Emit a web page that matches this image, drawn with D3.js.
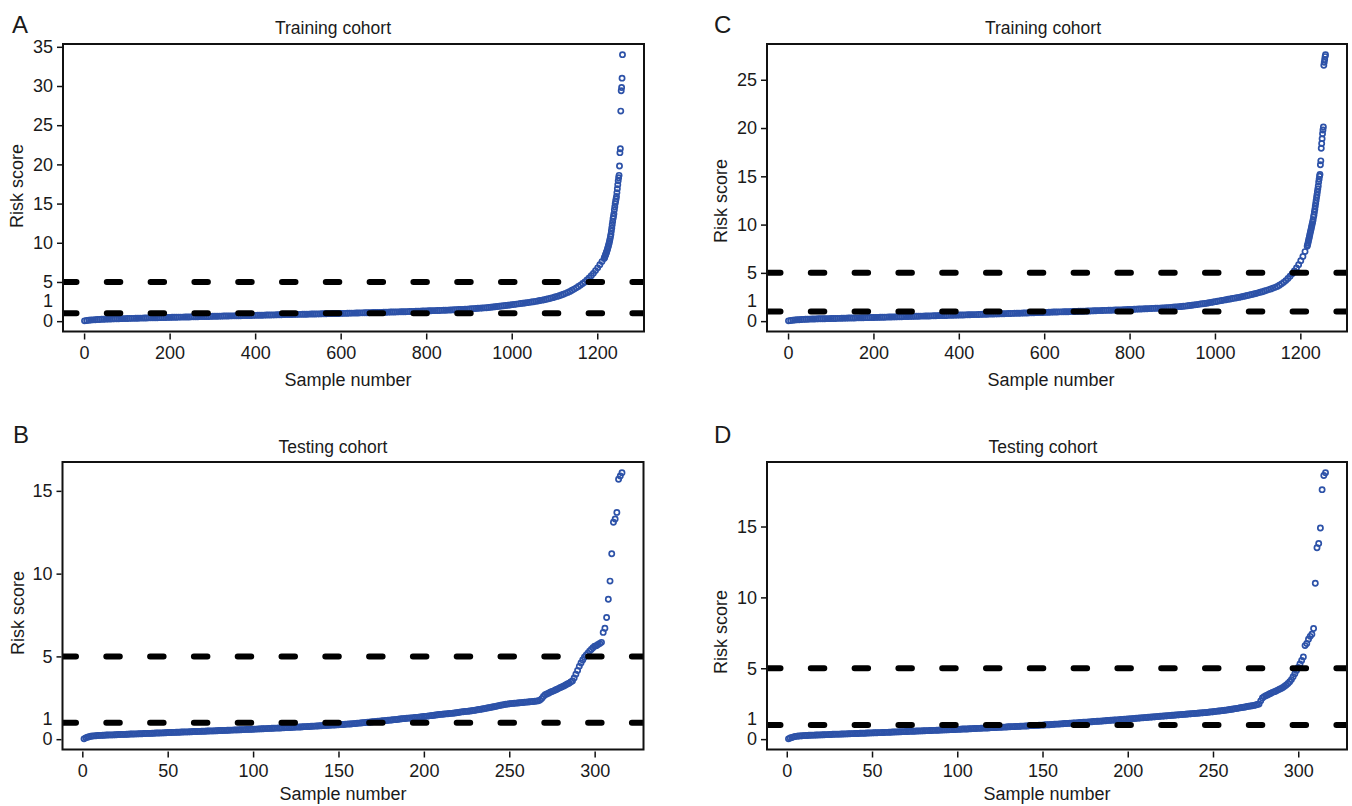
<!DOCTYPE html>
<html><head><meta charset="utf-8">
<script src="https://cdn.jsdelivr.net/npm/d3@7"></script>
<style>
html,body{margin:0;padding:0;background:#fff;}
svg{display:block;}
text{font-family:"Liberation Sans",Arial,Helvetica,sans-serif;fill:#1a1a1a;}
</style></head><body>
<svg id="chart" width="1352" height="806"></svg>
<script>
// ---------------- DATA ----------------
// Training cohort: scores read every 5th sample (1, 6, 11, ... 1216) in the dense part,
// then every sample in the steep tail (1217 ... 1259).
const scoreA_dense = [
0.04,0.09,0.12,0.15,0.17,0.19,0.21,0.22,0.24,0.25,0.26,0.27,0.28,0.29,0.30,0.31,0.31,0.32,0.33,0.33,
0.34,0.35,0.36,0.36,0.37,0.38,0.39,0.39,0.40,0.41,0.42,0.42,0.43,0.44,0.44,0.45,0.46,0.46,0.47,0.48,
0.48,0.49,0.50,0.50,0.51,0.52,0.52,0.53,0.54,0.54,0.55,0.56,0.56,0.57,0.58,0.58,0.59,0.60,0.60,0.61,
0.62,0.62,0.63,0.64,0.64,0.65,0.66,0.66,0.67,0.68,0.68,0.69,0.70,0.70,0.71,0.72,0.72,0.73,0.73,0.74,
0.74,0.75,0.76,0.76,0.77,0.78,0.78,0.79,0.80,0.80,0.81,0.82,0.82,0.83,0.84,0.84,0.85,0.85,0.86,0.86,
0.87,0.87,0.88,0.89,0.89,0.90,0.91,0.91,0.92,0.93,0.93,0.94,0.95,0.95,0.96,0.96,0.97,0.97,0.98,0.98,
0.99,1.00,1.00,1.01,1.02,1.03,1.03,1.04,1.05,1.06,1.06,1.07,1.08,1.08,1.09,1.10,1.10,1.11,1.12,1.12,
1.13,1.14,1.15,1.16,1.16,1.17,1.18,1.19,1.20,1.20,1.21,1.22,1.23,1.24,1.25,1.26,1.27,1.28,1.29,1.30,
1.31,1.32,1.33,1.34,1.35,1.36,1.37,1.38,1.39,1.40,1.41,1.42,1.44,1.45,1.46,1.48,1.49,1.51,1.52,1.54,
1.56,1.58,1.60,1.62,1.64,1.66,1.68,1.70,1.72,1.75,1.78,1.81,1.84,1.87,1.90,1.93,1.96,1.99,2.03,2.07,
2.11,2.14,2.18,2.21,2.25,2.28,2.32,2.36,2.40,2.44,2.48,2.53,2.58,2.63,2.68,2.74,2.80,2.86,2.93,3.00,
3.08,3.16,3.25,3.34,3.44,3.55,3.67,3.80,3.94,4.09,4.25,4.42,4.60,4.80,5.00,5.25,5.50,5.80,6.10,6.45,
6.80,7.20,7.60,8.00];
const scoreA_tail = [8.1,8.25,8.4,8.55,8.7,8.85,9.0,9.2,9.4,9.6,9.8,10.0,10.25,10.5,10.8,11.1,11.5,11.9,12.3,12.7,
13.1,13.4,13.7,14.2,14.6,15.0,15.3,15.6,15.9,16.4,16.9,17.4,17.9,18.3,18.6,19.8,21.5,22.0,26.8,29.4,29.8,31.0,34.0];

const scoreC_dense = [
0.03,0.07,0.10,0.12,0.14,0.15,0.17,0.18,0.19,0.20,0.21,0.22,0.22,0.23,0.24,0.24,0.25,0.25,0.26,0.26,
0.27,0.28,0.28,0.29,0.29,0.30,0.31,0.31,0.32,0.32,0.33,0.33,0.34,0.34,0.35,0.35,0.36,0.36,0.37,0.37,
0.38,0.39,0.39,0.40,0.41,0.41,0.42,0.43,0.43,0.44,0.44,0.45,0.46,0.46,0.47,0.47,0.48,0.49,0.49,0.50,
0.50,0.51,0.52,0.52,0.53,0.54,0.54,0.55,0.56,0.56,0.57,0.58,0.58,0.59,0.59,0.60,0.61,0.61,0.62,0.62,
0.63,0.64,0.64,0.65,0.66,0.66,0.67,0.68,0.68,0.69,0.70,0.71,0.71,0.72,0.73,0.73,0.74,0.75,0.75,0.76,
0.77,0.77,0.78,0.79,0.79,0.80,0.81,0.82,0.82,0.83,0.84,0.84,0.85,0.86,0.86,0.87,0.88,0.89,0.89,0.90,
0.91,0.91,0.92,0.93,0.94,0.94,0.95,0.96,0.96,0.97,0.98,0.98,0.99,1.00,1.00,1.01,1.02,1.02,1.03,1.04,
1.05,1.05,1.06,1.07,1.08,1.09,1.09,1.10,1.11,1.12,1.13,1.13,1.14,1.15,1.16,1.17,1.17,1.18,1.19,1.20,
1.21,1.22,1.23,1.24,1.25,1.26,1.27,1.28,1.29,1.30,1.31,1.32,1.33,1.34,1.35,1.36,1.37,1.39,1.40,1.42,
1.44,1.46,1.48,1.50,1.52,1.54,1.56,1.59,1.62,1.65,1.68,1.71,1.74,1.77,1.80,1.83,1.86,1.90,1.94,1.98,
2.02,2.06,2.10,2.14,2.18,2.22,2.26,2.30,2.34,2.38,2.42,2.46,2.51,2.56,2.61,2.66,2.71,2.76,2.81,2.87,
2.93,2.99,3.05,3.12,3.19,3.26,3.34,3.42,3.50,3.60,3.72,3.86,4.02,4.20,4.42,4.66,4.92,5.20,5.50,5.85,
6.25,6.70,7.20,7.75];
const scoreC_tail = [7.9,8.1,8.3,8.5,8.7,8.9,9.1,9.3,9.5,9.7,9.9,10.1,10.3,10.5,10.8,11.0,11.3,11.6,11.9,12.2,
12.5,12.8,13.1,13.4,13.7,14.0,14.4,14.7,15.0,15.2,16.2,16.6,17.9,18.4,18.9,19.4,19.8,20.1,26.5,26.8,27.1,27.4,27.6];

// Testing cohort: one score per sample (1 ... 316)
const scoreB = [
0.02,0.08,0.12,0.15,0.18,0.19,0.20,0.21,0.22,0.23,
0.23,0.24,0.24,0.25,0.25,0.26,0.26,0.26,0.27,0.27,
0.28,0.28,0.29,0.29,0.29,0.30,0.30,0.31,0.31,0.31,
0.32,0.32,0.33,0.33,0.33,0.34,0.34,0.35,0.35,0.35,
0.36,0.36,0.37,0.37,0.37,0.38,0.38,0.39,0.39,0.40,
0.40,0.40,0.41,0.41,0.42,0.42,0.42,0.43,0.43,0.44,
0.44,0.44,0.45,0.45,0.46,0.46,0.46,0.47,0.47,0.48,
0.48,0.48,0.49,0.49,0.50,0.50,0.50,0.51,0.51,0.52,
0.52,0.52,0.53,0.53,0.54,0.54,0.55,0.55,0.56,0.56,
0.56,0.57,0.57,0.58,0.58,0.59,0.59,0.59,0.60,0.60,
0.61,0.61,0.62,0.62,0.63,0.63,0.64,0.64,0.65,0.65,
0.66,0.66,0.67,0.67,0.68,0.68,0.69,0.69,0.70,0.70,
0.71,0.71,0.72,0.72,0.73,0.73,0.74,0.74,0.75,0.76,
0.76,0.77,0.77,0.78,0.78,0.79,0.80,0.80,0.81,0.81,
0.82,0.82,0.83,0.84,0.84,0.85,0.85,0.86,0.87,0.87,
0.88,0.89,0.89,0.90,0.91,0.92,0.92,0.93,0.94,0.95,
0.96,0.97,0.98,0.99,1.00,1.01,1.02,1.03,1.04,1.05,
1.06,1.07,1.08,1.09,1.10,1.11,1.12,1.13,1.14,1.15,
1.16,1.17,1.18,1.19,1.20,1.22,1.23,1.24,1.25,1.26,
1.27,1.28,1.29,1.30,1.31,1.32,1.33,1.34,1.36,1.37,
1.38,1.39,1.41,1.42,1.43,1.45,1.46,1.48,1.49,1.50,
1.51,1.52,1.53,1.54,1.55,1.56,1.57,1.58,1.60,1.61,
1.63,1.65,1.66,1.67,1.68,1.69,1.70,1.72,1.74,1.75,
1.77,1.79,1.80,1.82,1.84,1.86,1.88,1.90,1.92,1.94,
1.96,1.98,2.01,2.03,2.05,2.07,2.09,2.11,2.12,2.14,
2.15,2.16,2.17,2.18,2.19,2.20,2.21,2.22,2.23,2.24,
2.25,2.26,2.27,2.28,2.29,2.30,2.32,2.36,2.45,2.58,
2.68,2.73,2.78,2.84,2.88,2.92,2.97,3.02,3.07,3.12,
3.17,3.22,3.27,3.33,3.38,3.45,3.52,3.70,3.92,4.15,
4.40,4.60,4.78,4.95,5.08,5.20,5.32,5.42,5.52,5.62,
5.65,5.72,5.78,5.85,6.45,6.70,7.35,8.45,9.55,11.2,
13.1,13.3,13.7,15.7,15.9,16.1];

const scoreD = [
0.02,0.08,0.12,0.16,0.19,0.21,0.22,0.23,0.24,0.25,
0.26,0.26,0.27,0.27,0.28,0.28,0.29,0.29,0.30,0.30,
0.31,0.31,0.32,0.32,0.33,0.33,0.34,0.34,0.35,0.35,
0.35,0.36,0.36,0.37,0.37,0.38,0.38,0.39,0.39,0.40,
0.40,0.40,0.41,0.41,0.42,0.42,0.43,0.43,0.44,0.44,
0.45,0.45,0.45,0.46,0.46,0.47,0.47,0.48,0.48,0.49,
0.49,0.50,0.50,0.51,0.51,0.52,0.52,0.53,0.53,0.54,
0.54,0.55,0.55,0.56,0.56,0.57,0.57,0.58,0.58,0.59,
0.59,0.60,0.60,0.61,0.61,0.62,0.62,0.63,0.63,0.64,
0.64,0.65,0.65,0.66,0.66,0.67,0.67,0.68,0.68,0.69,
0.69,0.70,0.71,0.71,0.72,0.72,0.73,0.73,0.74,0.75,
0.75,0.76,0.76,0.77,0.78,0.78,0.79,0.79,0.80,0.81,
0.81,0.82,0.82,0.83,0.84,0.84,0.85,0.85,0.86,0.87,
0.87,0.88,0.88,0.89,0.90,0.90,0.91,0.92,0.92,0.93,
0.93,0.94,0.95,0.95,0.96,0.97,0.97,0.98,0.99,0.99,
1.00,1.01,1.02,1.02,1.03,1.04,1.05,1.06,1.06,1.07,
1.08,1.09,1.10,1.10,1.11,1.12,1.13,1.14,1.14,1.15,
1.16,1.17,1.18,1.19,1.19,1.20,1.21,1.22,1.23,1.24,
1.25,1.26,1.26,1.27,1.28,1.29,1.30,1.31,1.32,1.33,
1.34,1.35,1.35,1.36,1.37,1.38,1.39,1.40,1.41,1.42,
1.43,1.44,1.45,1.46,1.47,1.48,1.49,1.50,1.51,1.52,
1.53,1.54,1.55,1.56,1.57,1.58,1.59,1.60,1.61,1.62,
1.63,1.64,1.65,1.66,1.67,1.68,1.69,1.70,1.71,1.72,
1.73,1.74,1.75,1.76,1.77,1.78,1.79,1.80,1.81,1.82,
1.83,1.84,1.85,1.86,1.87,1.88,1.89,1.91,1.92,1.93,
1.95,1.96,1.98,1.99,2.01,2.02,2.04,2.05,2.07,2.09,
2.11,2.13,2.15,2.17,2.19,2.21,2.23,2.25,2.27,2.30,
2.32,2.34,2.36,2.38,2.41,2.44,2.48,2.70,2.90,3.00,
3.06,3.12,3.18,3.24,3.30,3.35,3.40,3.46,3.52,3.58,
3.65,3.73,3.82,3.92,4.05,4.20,4.40,4.62,4.85,5.05,
5.30,5.55,5.80,6.60,6.75,7.05,7.25,7.40,7.80,11.0,
13.5,13.8,14.9,17.6,18.6,18.8];

const cutoffs = [1, 5];
const yTicksA = [0, 1, 5, 10, 15, 20, 25, 30, 35];
const yTicksC = [0, 1, 5, 10, 15, 20, 25];
const yTicksB = [0, 1, 5, 10, 15];
const yTicksD = [0, 1, 5, 10, 15];
const xTicksTraining = [0, 200, 400, 600, 800, 1000, 1200];
const xTicksTesting = [0, 50, 100, 150, 200, 250, 300];

const titleTraining = "Training cohort";
const titleTesting = "Testing cohort";
const xLabel = "Sample number";
const yLabel = "Risk score";

// ---------------- BUILD POINTS ----------------
const denseStep = 5;
function trainingPoints(dense, tail) {
  const pts = dense.map((v, i) => ({ s: 1 + denseStep * i, v }));
  const start = 1 + denseStep * (dense.length - 1) + 1;
  tail.forEach((v, i) => pts.push({ s: start + i, v }));
  return pts;
}
function testingPoints(scores) {
  return scores.map((v, i) => ({ s: i + 1, v }));
}

const panels = [
  { letter: "A", pts: trainingPoints(scoreA_dense, scoreA_tail), yTicks: yTicksA, xTicks: xTicksTraining, title: titleTraining,
    left: 63, right: 644, top: 44, bottom: 331.5, letterX: 12, letterY: 33, titleX: 333, titleY: 34,
    xLabX: 348, xLabY: 386, yLabX: 23, yLabY: 186 },
  { letter: "C", pts: trainingPoints(scoreC_dense, scoreC_tail), yTicks: yTicksC, xTicks: xTicksTraining, title: titleTraining,
    left: 767, right: 1347, top: 44, bottom: 331.5, letterX: 714, letterY: 33, titleX: 1043, titleY: 34,
    xLabX: 1051, xLabY: 386, yLabX: 727, yLabY: 201 },
  { letter: "B", pts: testingPoints(scoreB), yTicks: yTicksB, xTicks: xTicksTesting, title: titleTesting,
    left: 62.5, right: 643.5, top: 462, bottom: 749.5, letterX: 13, letterY: 443, titleX: 333, titleY: 453,
    xLabX: 343, xLabY: 800, yLabX: 24, yLabY: 613 },
  { letter: "D", pts: testingPoints(scoreD), yTicks: yTicksD, xTicks: xTicksTesting, title: titleTesting,
    left: 767, right: 1347, top: 462, bottom: 749.5, letterX: 714, letterY: 443, titleX: 1043, titleY: 453,
    xLabX: 1047, xLabY: 800, yLabX: 727, yLabY: 632 }
];

const svg = d3.select("#chart");
const defs = svg.append("defs");

function drawPanel(p) {
  const n = d3.max(p.pts, d => d.s);
  const minS = d3.min(p.pts, d => d.s);
  const xPad = 0.04 * (n - minS);
  const x = d3.scaleLinear().domain([minS - xPad, n + xPad]).range([p.left, p.right]);
  const [mn, mx] = d3.extent(p.pts, d => d.v);
  const yPad = 0.04 * (mx - mn);
  const y = d3.scaleLinear().domain([mn - yPad, mx + yPad]).range([p.bottom, p.top]);

  const g = svg.append("g");
  const clipId = "clip" + p.letter;
  defs.append("clipPath").attr("id", clipId).append("rect")
    .attr("x", p.left).attr("y", p.top)
    .attr("width", p.right - p.left).attr("height", p.bottom - p.top);

  const plot = g.append("g").attr("clip-path", `url(#${clipId})`);
  plot.selectAll("circle").data(p.pts).join("circle")
    .attr("cx", d => x(d.s)).attr("cy", d => y(d.v)).attr("r", 2.6)
    .attr("fill", "none").attr("stroke", "#2d52a8").attr("stroke-width", 1.7);

  plot.selectAll("line.cut").data(cutoffs).join("line").attr("class", "cut")
    .attr("x1", p.left).attr("x2", p.right)
    .attr("y1", d => y(d)).attr("y2", d => y(d))
    .attr("stroke", "#000").attr("stroke-width", 6)
    .attr("stroke-linecap", "round").attr("stroke-dasharray", "13.5 30.3");

  // frame
  g.append("rect").attr("x", p.left).attr("y", p.top)
    .attr("width", p.right - p.left).attr("height", p.bottom - p.top)
    .attr("fill", "none").attr("stroke", "#111").attr("stroke-width", 2);

  // y axis
  const yAxis = g.append("g").attr("transform", `translate(${p.left - 1},0)`)
    .call(d3.axisLeft(y).tickValues(p.yTicks).tickFormat(d3.format("d")).tickSize(5).tickPadding(4));
  yAxis.select(".domain").remove();
  yAxis.selectAll(".tick line").attr("stroke", "#111").attr("stroke-width", 1.5);
  yAxis.selectAll(".tick text").attr("font-size", 18).attr("fill", "#1a1a1a")
    .style("font-family", '"Liberation Sans",Arial,sans-serif');
  yAxis.selectAll(".tick").filter(d => d === 1).each(function () {
    const off = Math.min(0, (y(0) - 20) - y(1));
    d3.select(this).select("text").attr("y", off);
    d3.select(this).select("line").remove();
  });

  // x axis
  const xAxis = g.append("g").attr("transform", `translate(0,${p.bottom + 2})`)
    .call(d3.axisBottom(x).tickValues(p.xTicks).tickFormat(d3.format("d")).tickSize(6).tickPadding(7));
  xAxis.select(".domain").remove();
  xAxis.selectAll(".tick line").attr("stroke", "#111").attr("stroke-width", 1.5);
  xAxis.selectAll(".tick text").attr("font-size", 18).attr("fill", "#1a1a1a")
    .style("font-family", '"Liberation Sans",Arial,sans-serif');

  // labels
  g.append("text").attr("x", p.titleX).attr("y", p.titleY).attr("text-anchor", "middle")
    .attr("font-size", 17.5).text(p.title);
  g.append("text").attr("x", p.xLabX).attr("y", p.xLabY).attr("text-anchor", "middle")
    .attr("font-size", 18).text(xLabel);
  g.append("text").attr("transform", `translate(${p.yLabX},${p.yLabY}) rotate(-90)`)
    .attr("text-anchor", "middle").attr("font-size", 18).text(yLabel);
  g.append("text").attr("x", p.letterX).attr("y", p.letterY)
    .attr("font-size", 24).attr("fill", "#222").text(p.letter);
}

panels.forEach(drawPanel);
</script>
</body></html>
